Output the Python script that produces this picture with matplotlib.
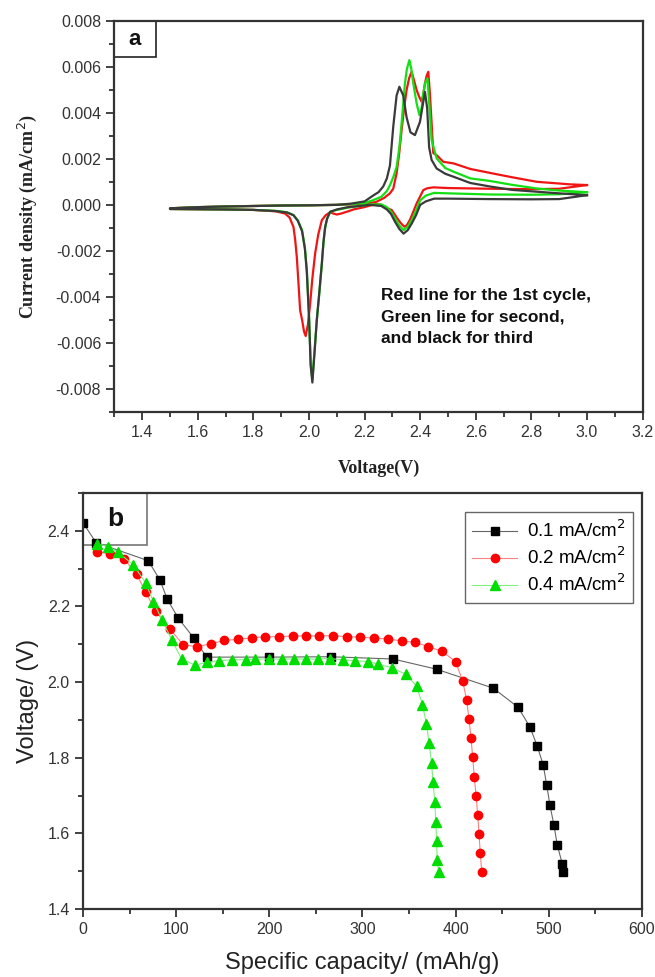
import matplotlib
matplotlib.use('Agg')
import matplotlib.pyplot as plt
from matplotlib.patches import Rectangle
from matplotlib.ticker import MultipleLocator, FormatStrFormatter

plt.rcParams['font.family'] = ['Liberation Sans', 'DejaVu Sans']
plt.rcParams['axes.unicode_minus'] = False

# Cyclic voltammetry, current density in mA/cm2 (x1e-3 below)
# Cycle 1 (red)
c1_cat_v = [3.0, 2.9, 2.8, 2.65, 2.5, 2.447, 2.425, 2.411, 2.399, 2.387, 2.375, 2.363, 2.352, 2.343, 2.332,
            2.321, 2.31, 2.297, 2.279, 2.26, 2.243, 2.22, 2.195, 2.16, 2.136, 2.115, 2.1, 2.088, 2.076, 2.06,
            2.046, 2.033, 2.022, 2.012, 2.004, 1.996, 1.988, 1.982, 1.975, 1.968, 1.962, 1.956, 1.95, 1.944,
            1.93, 1.914, 1.88, 1.8, 1.7, 1.6, 1.5]
c1_cat_i = [0.86, 0.7, 0.68, 0.7, 0.73, 0.76, 0.72, 0.64, 0.35, 0.06, -0.3, -0.65, -0.88, -0.95, -0.82,
            -0.65, -0.45, -0.22, -0.15, 0.0, 0.03, -0.03, -0.11, -0.2, -0.3, -0.38, -0.42, -0.38, -0.32, -0.45,
            -0.67, -1.3, -2.11, -3.2, -4.29, -5.2, -5.7, -5.5, -5.0, -4.58, -3.4, -2.26, -1.5, -0.96,
            -0.55, -0.38, -0.28, -0.22, -0.2, -0.19, -0.18]
c1_an_v = [1.5, 1.6, 1.7, 1.8, 1.9, 2.0, 2.1, 2.15, 2.2, 2.24, 2.27, 2.291, 2.303, 2.315, 2.324, 2.333, 2.342,
           2.351, 2.36, 2.369, 2.378, 2.387, 2.396, 2.405, 2.411, 2.417, 2.423, 2.429, 2.435, 2.441, 2.447,
           2.459, 2.483, 2.52, 2.58, 2.65, 2.73, 2.82, 2.94, 3.0]
c1_an_i = [-0.15, -0.1, -0.07, -0.05, -0.03, -0.02, 0.0, 0.02, 0.05, 0.12, 0.3, 0.5, 0.7, 1.37, 2.2, 3.25, 4.2,
           4.99, 5.5, 5.78, 5.4, 4.99, 4.7, 4.48, 4.8, 5.28, 5.6, 5.78, 4.8, 3.54, 2.25,
           2.16, 1.87, 1.8, 1.56, 1.39, 1.2, 1.0, 0.89, 0.86]

# Cycle 2 (green)
c2_cat_v = [3.0, 2.9, 2.8, 2.65, 2.5, 2.45, 2.42, 2.40, 2.385, 2.37, 2.355, 2.34, 2.325, 2.31, 2.295, 2.28,
            2.26, 2.22, 2.18, 2.14, 2.10, 2.076, 2.065, 2.058, 2.052, 2.046, 2.037, 2.028, 2.02, 2.012, 2.006,
            2.0, 1.992, 1.985, 1.975, 1.96, 1.944, 1.92, 1.88, 1.8, 1.7, 1.6, 1.5]
c2_cat_i = [0.55, 0.46, 0.44, 0.45, 0.5, 0.52, 0.4, 0.2, -0.25, -0.65, -0.95, -1.1, -0.9, -0.6, -0.3, -0.1,
            0.02, 0.02, -0.05, -0.12, -0.22, -0.3, -0.6, -1.0, -1.65, -2.6, -3.85, -5.0, -6.3, -7.6, -6.9,
            -4.8, -2.8, -1.85, -1.1, -0.68, -0.44, -0.32, -0.26, -0.22, -0.2, -0.19, -0.18]
c2_an_v = [1.5, 1.6, 1.7, 1.8, 1.9, 2.0, 2.1, 2.15, 2.2, 2.23, 2.26, 2.28, 2.291, 2.303, 2.315, 2.325, 2.333,
           2.345, 2.352, 2.361, 2.368, 2.375, 2.387, 2.397, 2.405, 2.411, 2.418, 2.426, 2.433, 2.441, 2.459,
           2.49, 2.52, 2.58, 2.65, 2.73, 2.82, 2.9, 3.0]
c2_an_i = [-0.15, -0.1, -0.07, -0.05, -0.03, -0.02, 0.0, 0.03, 0.08, 0.2, 0.35, 0.6, 0.85, 1.2, 1.65, 2.5, 3.54,
           5.28, 5.9, 6.29, 5.9, 5.28, 4.41, 3.9, 4.2, 4.84, 5.3, 5.5, 4.3, 2.81, 2.02,
           1.6, 1.44, 1.15, 1.04, 0.87, 0.71, 0.62, 0.55]

# Cycle 3 (black)
c3_cat_v = [3.0, 2.9, 2.8, 2.65, 2.5, 2.45, 2.42, 2.40, 2.385, 2.37, 2.355, 2.34, 2.325, 2.31, 2.295, 2.28,
            2.26, 2.22, 2.18, 2.14, 2.10, 2.076, 2.065, 2.058, 2.052, 2.046, 2.037, 2.028, 2.02, 2.012, 2.006,
            2.0, 1.992, 1.985, 1.975, 1.96, 1.944, 1.92, 1.88, 1.8, 1.7, 1.6, 1.5]
c3_cat_i = [0.42, 0.25, 0.24, 0.25, 0.27, 0.27, 0.15, 0.0, -0.45, -0.8, -1.1, -1.25, -1.05, -0.75, -0.4, -0.2,
            -0.05, 0.0, -0.05, -0.1, -0.2, -0.3, -0.6, -0.96, -1.6, -2.55, -3.8, -5.0, -6.4, -7.72, -7.0,
            -4.9, -2.9, -1.9, -1.15, -0.7, -0.45, -0.33, -0.27, -0.22, -0.2, -0.19, -0.18]
c3_an_v = [1.5, 1.6, 1.7, 1.8, 1.9, 2.0, 2.1, 2.15, 2.2, 2.23, 2.25, 2.267, 2.28, 2.291, 2.303, 2.315, 2.325,
           2.339, 2.351, 2.365, 2.381, 2.399, 2.41, 2.417, 2.425, 2.432, 2.441, 2.459, 2.49, 2.52, 2.58, 2.65,
           2.73, 2.82, 2.9, 3.0]
c3_an_i = [-0.15, -0.1, -0.07, -0.05, -0.03, -0.02, 0.0, 0.05, 0.15, 0.4, 0.55, 0.8, 1.15, 1.7, 3.4, 4.75, 5.13,
           4.75, 3.8, 3.15, 3.03, 3.6, 4.4, 4.91, 4.2, 2.5, 1.95, 1.58, 1.35, 1.22, 0.95, 0.8,
           0.65, 0.57, 0.5, 0.42]

# Discharge curves at three current densities
cap_01 = [0.3, 14, 70, 82.6, 90.5, 102.3, 119.1, 132.7, 199.9, 265.8, 333, 379.6, 440.4, 467.2, 479.8,
          487.6, 494.1, 497.7, 501.2, 505.5, 509.1, 514.5, 515.6]
volt_01 = [2.420, 2.369, 2.321, 2.270, 2.219, 2.169, 2.116, 2.066, 2.066, 2.067, 2.061, 2.034, 1.984, 1.933,
           1.881, 1.831, 1.780, 1.728, 1.675, 1.622, 1.569, 1.519, 1.497]
cap_02 = [14.7, 29, 44.3, 57.6, 67.3, 78.3, 93.4, 107.7, 122.7, 137.1, 151.3, 166, 181, 195.3, 210.7, 225,
          239.3, 253.6, 268, 283, 297.3, 312.3, 327, 342, 356.3, 370.6, 385.7, 400, 407.5, 411.8, 414.3,
          416.5, 418.3, 420, 421.9, 423.7, 425.1, 426.5, 428]
volt_02 = [2.345, 2.339, 2.325, 2.286, 2.237, 2.187, 2.140, 2.098, 2.094, 2.101, 2.110, 2.113, 2.117, 2.120,
           2.120, 2.122, 2.122, 2.122, 2.123, 2.120, 2.119, 2.116, 2.114, 2.109, 2.105, 2.094, 2.081, 2.054,
           2.003, 1.953, 1.903, 1.853, 1.801, 1.750, 1.700, 1.649, 1.598, 1.547, 1.497]
cap_04 = [14.7, 27.2, 37.9, 54, 67.3, 75.5, 85.1, 95.2, 105.9, 120.2, 133.4, 146.3, 160.3, 175, 184.6, 199.9,
          213.2, 226.4, 239.3, 252.5, 265.1, 278.6, 291.8, 305.4, 316.8, 331.2, 346.2, 358, 364.4, 368.7,
          371.5, 374.1, 375.8, 377.6, 378.7, 379.5, 380.2, 381.7]
volt_04 = [2.366, 2.358, 2.343, 2.310, 2.262, 2.213, 2.163, 2.112, 2.061, 2.045, 2.052, 2.057, 2.059, 2.059,
           2.061, 2.061, 2.061, 2.061, 2.061, 2.061, 2.062, 2.059, 2.057, 2.054, 2.048, 2.038, 2.021, 1.990,
           1.940, 1.889, 1.838, 1.787, 1.735, 1.684, 1.631, 1.581, 1.530, 1.497]

fig = plt.figure(figsize=(6.55, 9.77), dpi=100)

spine_col = '#333333'
label_col = '#333333'


def style_axes(ax):
    for s in ax.spines.values():
        s.set_linewidth(1.6)
        s.set_color(spine_col)
    ax.tick_params(which='major', direction='out', length=6, width=1.3, color=spine_col,
                   labelsize=11.5, labelcolor=label_col, top=False, right=False)
    ax.tick_params(which='minor', direction='out', length=3.5, width=1.3, color=spine_col,
                   top=False, right=False)


# (a) CV curves
ax1 = fig.add_axes([0.1747, 0.5783, 0.8064, 0.4005])
for cv, ci, av, ai, col in [(c1_cat_v, c1_cat_i, c1_an_v, c1_an_i, '#f01414'),
                            (c2_cat_v, c2_cat_i, c2_an_v, c2_an_i, '#12e012'),
                            (c3_cat_v, c3_cat_i, c3_an_v, c3_an_i, '#3a3a3a')]:
    ax1.plot(cv + av, [x * 1e-3 for x in ci + ai], color=col, lw=1.6)
ax1.set_xlim(1.3, 3.2)
ax1.set_ylim(-0.009, 0.008)
ax1.xaxis.set_major_locator(MultipleLocator(0.2))
ax1.xaxis.set_minor_locator(MultipleLocator(0.1))
ax1.yaxis.set_major_locator(MultipleLocator(0.002))
ax1.yaxis.set_minor_locator(MultipleLocator(0.001))
ax1.xaxis.set_major_formatter(FormatStrFormatter('%.1f'))
ax1.yaxis.set_major_formatter(FormatStrFormatter('%.3f'))
style_axes(ax1)
ax1.set_xlabel('Voltage(V)', family='Liberation Serif', weight='bold', fontsize=13, color='#222222',
               labelpad=14)
ax1.set_ylabel('Current density (mA/cm$^2$)', family='Liberation Serif', weight='bold', fontsize=13,
               color='#222222', labelpad=12)
ax1.add_patch(Rectangle((0, 0.907), 0.0788, 0.093, transform=ax1.transAxes, fill=False,
                        edgecolor='#222222', lw=1.2, clip_on=False))
ax1.text(0.039, 0.953, 'a', transform=ax1.transAxes, ha='center', va='center', fontsize=16,
         weight='bold', color='#111111')
ax1.text(2.259, -0.0036, 'Red line for the 1st cycle,\nGreen line for second,\nand black for third',
         fontsize=12.5, weight='bold', color='#111111', va='top', ha='left', linespacing=1.55)

# (b) discharge profiles
ax2 = fig.add_axes([0.1267, 0.0696, 0.8534, 0.4258])
ax2.plot(cap_01, volt_01, color='#666666', lw=0.8, marker='s', ms=5.5, mfc='black', mec='black',
         label='0.1 mA/cm$^2$')
ax2.plot(cap_02, volt_02, color='#ff8080', lw=0.8, marker='o', ms=6, mfc='#ff0000', mec='#ff0000',
         label='0.2 mA/cm$^2$')
ax2.plot(cap_04, volt_04, color='#80f080', lw=0.8, marker='^', ms=6.5, mfc='#00dd00', mec='#00dd00',
         label='0.4 mA/cm$^2$')
ax2.set_xlim(0, 600)
ax2.set_ylim(1.4, 2.5)
ax2.xaxis.set_major_locator(MultipleLocator(100))
ax2.xaxis.set_minor_locator(MultipleLocator(50))
ax2.yaxis.set_major_locator(MultipleLocator(0.2))
ax2.yaxis.set_minor_locator(MultipleLocator(0.1))
ax2.yaxis.set_major_formatter(FormatStrFormatter('%.1f'))
style_axes(ax2)
ax2.set_xlabel('Specific capacity/ (mAh/g)', fontsize=17, color='#222222', labelpad=11)
ax2.set_ylabel('Voltage/ (V)', fontsize=17, color='#222222', labelpad=6)
ax2.add_patch(Rectangle((0, 0.875), 0.1145, 0.125, transform=ax2.transAxes, fill=False,
                        edgecolor='#777777', lw=1.2, clip_on=False))
ax2.text(0.057, 0.9375, 'b', transform=ax2.transAxes, ha='center', va='center', fontsize=19,
         weight='bold', color='#111111')
leg = ax2.legend(loc='upper right', bbox_to_anchor=(0.984, 0.954), borderaxespad=0, fontsize=13.5,
                 fancybox=False, edgecolor='#666666', framealpha=1, handlelength=2.4,
                 labelspacing=0.3, borderpad=0.4, handletextpad=0.5)
leg.get_frame().set_linewidth(1.0)

fig.savefig('out.png', dpi=100)
